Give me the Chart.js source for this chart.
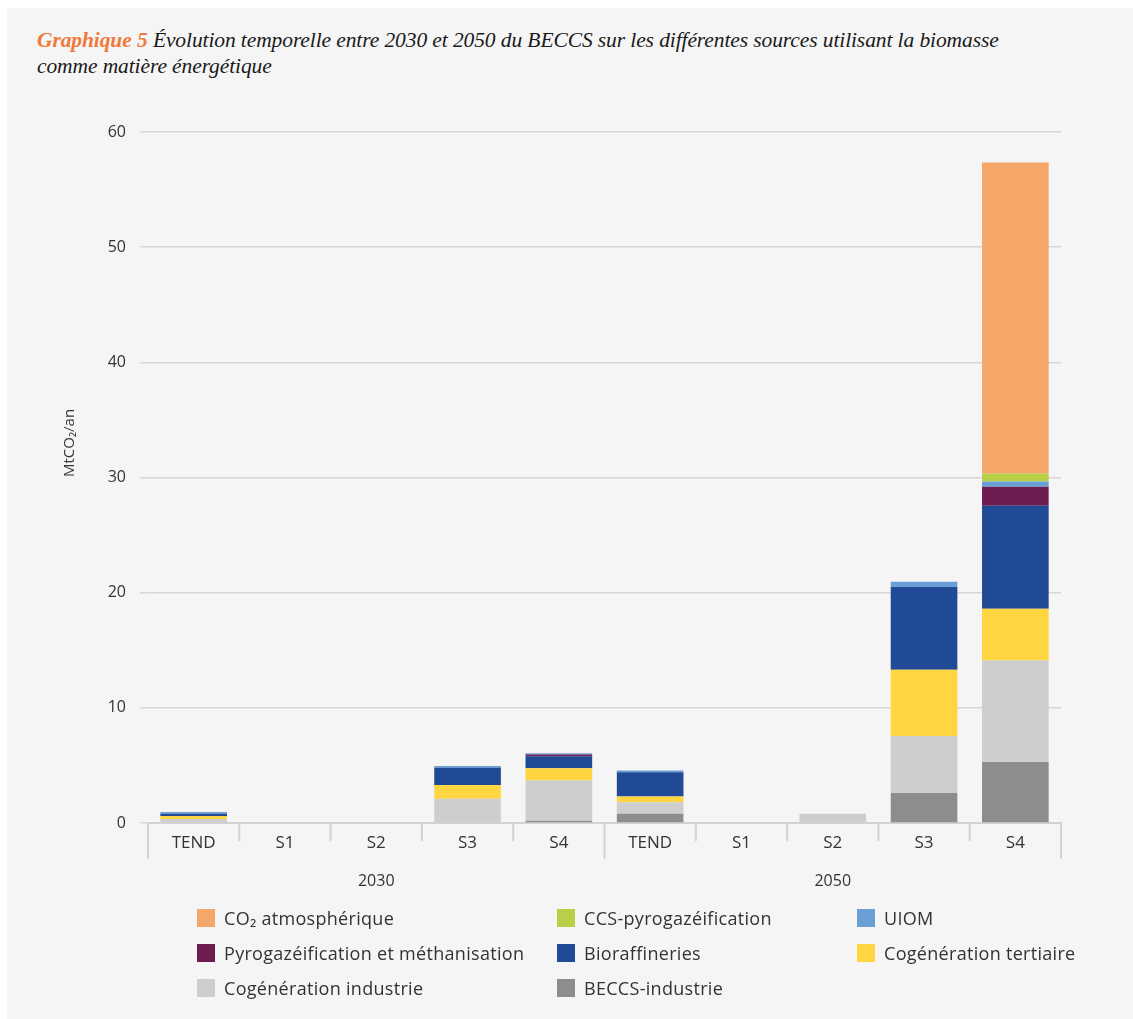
<!DOCTYPE html>
<html lang="fr">
<head>
<meta charset="utf-8">
<script src="https://cdn.jsdelivr.net/npm/chart.js@4.4.1/dist/chart.umd.min.js"></script>
<style>
  html, body { margin: 0; padding: 0; background: #fff; }
  #panel {
    position: absolute; left: 7px; top: 8px; width: 1126px; height: 1011px;
    background: #f5f5f5;
  }
  #title {
    position: absolute; left: 37px; top: 27px; width: 990px;
    font-family: "Liberation Serif", serif; font-style: italic;
    font-size: 21.5px; line-height: 26px; color: #1a1a1a; letter-spacing: -0.1px;
  }
  #title b { color: #f07a3c; }
  #wrap { position: absolute; left: 0; top: 0; width: 1133px; height: 1019px; }
  #legend {
    position: absolute; left: 197px; top: 906px;
    display: grid; grid-template-columns: 360px 300px 260px; row-gap: 11px;
    font-family: "Open Sans", sans-serif; font-size: 18px; letter-spacing: 0.3px; color: #333;
  }
  .item { display: flex; align-items: center; height: 24px; white-space: nowrap; }
  .box { width: 18px; height: 18px; margin-right: 9px; flex: none; }
</style>
</head>
<body>
<div id="panel"></div>
<div id="title"><b>Graphique 5</b> Évolution temporelle entre 2030 et 2050 du BECCS sur les différentes sources utilisant la biomasse comme matière énergétique</div>
<div id="wrap"><canvas id="chart" width="1133" height="1019"></canvas></div>
<div id="legend"></div>
<script>
// categories
var years = ['2030', '2050'];
var scenarios = ['TEND', 'S1', 'S2', 'S3', 'S4'];
var yTicks = [0, 10, 20, 30, 40, 50, 60];
var yTitle = 'MtCO₂/an';

// values in MtCO2/an, 2030 TEND..S4 then 2050 TEND..S4
var beccsIndustrie      = [0,    0, 0,   0,   0.2,  0.8,  0, 0,   2.6,  5.3];
var cogenIndustrie      = [0.35, 0, 0,   2.1, 3.5,  1.0,  0, 0.8, 4.95, 8.8];
var cogenTertiaire      = [0.25, 0, 0,   1.2, 1.05, 0.5,  0, 0,   5.75, 4.5];
var bioraffineries      = [0.2,  0, 0,   1.5, 1.05, 2.1,  0, 0,   7.2,  8.95];
var pyroMethanisation   = [0,    0, 0,   0,   0.15, 0,    0, 0,   0,    1.65];
var uiom                = [0.15, 0, 0,   0.15, 0.1, 0.15, 0, 0,   0.45, 0.45];
var ccsPyro             = [0,    0, 0,   0,   0,    0,    0, 0,   0,    0.7];
var co2Atmospherique    = [0,    0, 0,   0,   0,    0,    0, 0,   0,    27.0];

var labels = [];
years.forEach(function () { scenarios.forEach(function (s) { labels.push(s); }); });

// stacking order, bottom to top
var series = [
  { label: 'BECCS-industrie', data: beccsIndustrie, color: '#8c8d8c' },
  { label: 'Cogénération industrie', data: cogenIndustrie, color: '#cecece' },
  { label: 'Cogénération tertiaire', data: cogenTertiaire, color: '#ffd541' },
  { label: 'Bioraffineries', data: bioraffineries, color: '#214a96' },
  { label: 'Pyrogazéification et méthanisation', data: pyroMethanisation, color: '#6d1d50' },
  { label: 'UIOM', data: uiom, color: '#6a9fd5' },
  { label: 'CCS-pyrogazéification', data: ccsPyro, color: '#b8cf48' },
  { label: 'CO₂ atmosphérique', data: co2Atmospherique, color: '#f4a769' }
];

var legendOrder = ['CO₂ atmosphérique', 'CCS-pyrogazéification', 'UIOM',
  'Pyrogazéification et méthanisation', 'Bioraffineries', 'Cogénération tertiaire',
  'Cogénération industrie', 'BECCS-industrie'];

// separators under the x axis, year labels and the y title
var axisLines = {
  id: 'axisLines',
  afterDraw: function (chart) {
    var x = chart.scales.x, ctx = chart.ctx;
    var bottom = chart.chartArea.bottom;
    var n = labels.length;
    ctx.save();
    ctx.strokeStyle = '#d2d2d2';
    ctx.lineWidth = 2;
    for (var i = 0; i <= n; i++) {
      var px;
      if (i === 0) px = x.left;
      else if (i === n) px = x.right;
      else px = (x.getPixelForValue(i - 1) + x.getPixelForValue(i)) / 2;
      var groupEdge = i % scenarios.length === 0;
      ctx.beginPath();
      ctx.moveTo(px, bottom);
      ctx.lineTo(px, bottom + (groupEdge ? 36 : 18));
      ctx.stroke();
    }
    ctx.fillStyle = '#333';
    ctx.font = '16px "Open Sans", sans-serif';
    ctx.textAlign = 'center';
    ctx.textBaseline = 'middle';
    years.forEach(function (y, g) {
      var a = x.getPixelForValue(g * scenarios.length);
      var b = x.getPixelForValue(g * scenarios.length + scenarios.length - 1);
      ctx.fillText(y, (a + b) / 2, bottom + 58);
    });
    // y title sits a bit above the middle of the axis in the original
    var yScale = chart.scales.y;
    ctx.translate(70, yScale.getPixelForValue(33));
    ctx.rotate(-Math.PI / 2);
    ctx.font = '15px "Open Sans", sans-serif';
    ctx.fillText(yTitle, 0, 0);
    ctx.restore();
  }
};

var ctx = document.getElementById('chart').getContext('2d');
var chart = new Chart(ctx, {
  type: 'bar',
  data: {
    labels: labels,
    datasets: series.map(function (s) {
      return { label: s.label, data: s.data, backgroundColor: s.color,
        borderWidth: 0, categoryPercentage: 1, barPercentage: 0.73 };
    })
  },
  options: {
    responsive: false,
    animation: false,
    layout: { padding: { left: 0, right: 72, top: 132, bottom: 136 } },
    plugins: { legend: { display: false }, tooltip: { enabled: false } },
    scales: {
      x: {
        stacked: true,
        grid: { display: false },
        border: { display: true, color: '#d2d2d2', width: 2 },
        ticks: { color: '#333', padding: 2, font: { family: 'Open Sans', size: 17 } },
        afterFit: function (s) { s.height = 60; }
      },
      y: {
        stacked: true,
        min: 0, max: 60,
        afterBuildTicks: function (s) { s.ticks = yTicks.map(function (v) { return { value: v }; }); },
        grid: { color: '#d6d6d6', lineWidth: 1.5, tickLength: 8, tickColor: '#d6d6d6' },
        border: { display: false },
        ticks: { color: '#333', padding: 14, font: { family: 'Open Sans', size: 16 } },
        afterFit: function (s) { s.width = 148; }
      }
    }
  },
  plugins: [axisLines]
});

// legend in three columns
var legend = document.getElementById('legend');
legendOrder.forEach(function (name) {
  var s = series.filter(function (d) { return d.label === name; })[0];
  var item = document.createElement('div');
  item.className = 'item';
  var box = document.createElement('div');
  box.className = 'box';
  box.style.backgroundColor = s.color;
  item.appendChild(box);
  item.appendChild(document.createTextNode(s.label));
  legend.appendChild(item);
});
</script>
</body>
</html>
